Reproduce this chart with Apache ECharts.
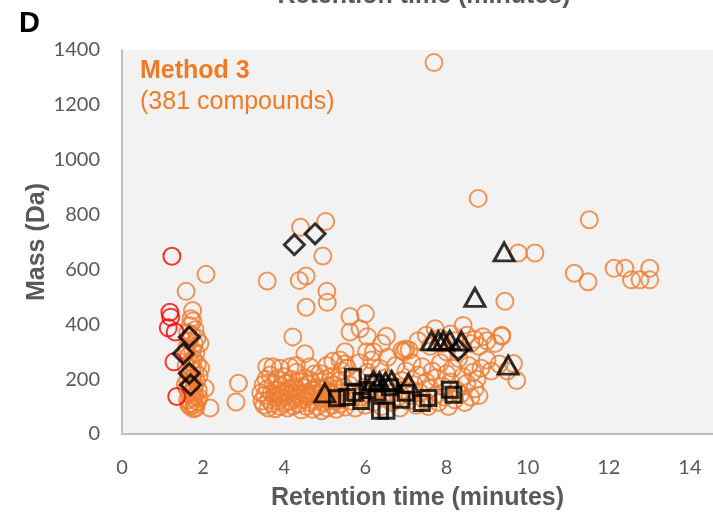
<!DOCTYPE html>
<html>
<head>
<meta charset="utf-8">
<script src="https://cdn.jsdelivr.net/npm/echarts@6/dist/echarts.min.js"></script>
<style>
  html, body { margin: 0; padding: 0; background: #ffffff; }
  #chart { width: 713px; height: 516px; }
</style>
</head>
<body>
<div id="chart"></div>
<script>
// Retention time (min) vs mass (Da), Method 3
const panelLetter = 'D';
const methodTitle = 'Method 3';
const methodCount = '(381 compounds)';
const xTitle = 'Retention time (minutes)';
const yTitle = 'Mass (Da)';
const xTicks = [0, 2, 4, 6, 8, 10, 12, 14];
const yTicks = [0, 200, 400, 600, 800, 1000, 1200, 1400];

// all detected compounds [rt, mass]
const compounds = [
  // early column
  [1.75,412],[1.68,395],[1.8,380],[1.62,370],[1.72,362],[1.85,350],[1.66,340],[1.78,330],[1.6,318],
  [1.74,305],[1.82,296],[1.64,285],[1.76,272],[1.7,262],[1.86,255],[1.58,248],[1.72,238],[1.8,228],
  [1.66,220],[1.9,212],[1.74,205],[1.62,196],[1.84,190],[1.7,182],[1.78,174],[1.6,166],[1.88,160],
  [1.72,152],[1.66,145],[1.8,138],[1.74,130],[1.62,124],[1.86,118],[1.7,112],[1.78,106],[1.68,100],
  [1.82,96],[1.76,92],[1.64,108],[1.9,132],[1.56,180],[1.94,240],[1.58,300],[1.92,330],[1.7,420],
  [2.07,582],[1.58,520],[1.74,450],[2.05,167],[2.17,95],[2.81,117],[2.87,185],
  // main cluster 3.4 - 5.5 min
  [3.57,245],[3.72,245],[3.9,240],[4.14,245],[4.3,250],[4.63,245],[4.88,221],[5.05,250],[5.2,265],
  [5.37,270],[5.5,255],
  [3.42,150],[3.45,120],[3.48,180],[3.5,105],[3.52,140],[3.55,200],[3.58,165],[3.6,95],[3.62,125],
  [3.65,215],[3.68,150],[3.7,110],[3.72,180],[3.75,135],[3.78,92],[3.8,160],[3.82,200],[3.85,120],
  [3.88,145],[3.9,100],[3.92,175],[3.95,130],[3.98,210],[4.0,155],[4.02,112],[4.05,185],[4.08,95],
  [4.1,140],[4.12,165],[4.15,120],[4.18,200],[4.2,150],[4.22,102],[4.25,175],[4.28,130],[4.3,225],
  [4.32,160],[4.35,110],[4.38,190],[4.4,140],[4.42,88],[4.45,170],[4.48,125],[4.5,205],[4.52,150],
  [4.55,100],[4.58,180],[4.6,135],[4.62,115],[4.65,195],[4.68,160],[4.7,90],[4.72,145],[4.75,220],
  [4.78,120],[4.8,170],[4.82,100],[4.85,150],[4.88,190],[4.9,130],[4.92,85],[4.95,165],[4.98,115],
  [5.0,200],[5.02,140],[5.05,95],[5.08,175],[5.1,125],[5.12,155],[5.15,210],[5.18,105],[5.2,145],
  [5.22,180],[5.25,120],[5.28,90],[5.3,165],[5.32,135],[5.35,195],[5.38,110],[5.4,150],[5.42,230],
  [5.45,125],[5.48,170],[5.5,98],
  // scattered higher masses
  [4.21,354],[4.51,293],[4.54,462],[4.37,560],[4.54,576],[3.58,558],[4.40,754],[5.02,775],[4.95,649],
  [5.05,520],[5.06,480],[5.62,428],[6.0,438],[5.62,372],[5.87,384],[6.52,356],[5.5,300],[6.03,300],
  // cluster 5.5 - 9.7 min
  [5.55,240],[5.6,180],[5.65,120],[5.7,150],[5.75,95],[5.8,200],[5.85,260],[5.9,135],[5.95,170],
  [6.0,105],[6.05,225],[6.1,145],[6.15,270],[6.2,115],[6.25,190],[6.3,160],[6.35,240],[6.4,100],
  [6.45,130],[6.5,205],[6.55,280],[6.6,150],[6.65,115],[6.7,175],[6.75,250],[6.8,135],[6.85,95],
  [6.9,195],[6.95,160],[7.0,230],[7.05,120],[7.1,140],[7.15,260],[7.2,180],[7.25,105],[7.3,215],
  [7.35,150],[7.4,245],[7.45,125],[7.5,190],[7.55,100],[7.6,165],[7.65,230],[7.7,140],[7.75,205],
  [7.8,115],[7.85,260],[7.9,175],[7.95,135],[8.0,220],[8.05,100],[8.1,190],[8.15,240],[8.2,125],
  [8.25,160],[8.3,275],[8.35,145],[8.4,210],[8.45,115],[8.5,185],[8.55,250],[8.6,135],[8.65,225],
  [8.7,165],[8.75,200],[8.8,140],[8.85,240],[9.0,270],[9.1,230],[9.3,255],[9.73,195],[9.65,257],
  [9.5,230],
  [6.2,300],[6.4,330],[6.9,305],[7.08,306],[7.3,340],[7.5,360],[7.72,384],[7.6,320],[7.85,350],
  [8.0,300],[8.2,340],[8.41,396],[8.5,360],[8.6,330],[8.7,345],[8.8,320],[8.9,355],[9.0,340],
  [9.2,330],[9.36,356],[9.36,360],[7.9,330],[8.1,365],[8.3,310],[6.05,355],[7.0,310],[6.95,300],
  // late eluting
  [9.44,484],[9.77,660],[10.18,660],[11.15,586],[11.49,555],[12.13,604],[12.40,604],[13.01,604],
  [12.56,562],[12.77,562],[13.01,562],[11.52,781],[8.78,859],[7.69,1354]
];

const redCompounds = [[1.23,648],[1.18,444],[1.2,426],[1.14,387],[1.31,372],[1.28,263],[1.35,137]];

const diamondCompounds = [[1.66,354],[1.51,293],[1.66,221],[1.69,179],[4.25,690],[4.76,730],[8.29,306]];

const triangleCompounds = [
  [5.0,150],[6.2,195],[6.35,190],[6.5,190],[6.65,195],[7.06,185],[7.63,340],[7.8,340],[7.92,340],
  [8.08,342],[8.37,339],[8.7,498],[9.42,664],[9.52,251]
];

const squareCompounds = [
  [5.3,130],[5.55,135],[5.69,209],[5.75,150],[5.9,120],[6.05,160],[6.19,185],[6.3,150],[6.36,85],
  [6.52,85],[6.6,170],[6.89,125],[7.0,150],[7.39,113],[7.55,131],[8.08,161],[8.17,143]
];

const orange = '#ED7D31';
const axisGrey = '#595959';
const labelFont = 'Lato, "Open Sans", sans-serif';
const boldFont = '"Liberation Sans", Arial, sans-serif';

const chart = echarts.init(document.getElementById('chart'), null, { renderer: 'canvas' });

const openMarker = (color, width) => ({ color: 'rgba(0,0,0,0)', borderColor: color, borderWidth: width });

chart.setOption({
  animation: false,
  backgroundColor: '#ffffff',
  grid: {
    left: 122, right: 0, top: 50, bottom: 77,
    show: true, backgroundColor: '#F2F2F2', borderWidth: 0
  },
  xAxis: {
    type: 'value',
    min: xTicks[0],
    max: 14.57,
    interval: 2,
    axisLine: { show: true, onZero: false, lineStyle: { color: '#BFBFBF', width: 2 } },
    axisTick: { show: false },
    splitLine: { show: false },
    axisLabel: {
      color: axisGrey, fontSize: 20, fontFamily: labelFont, margin: 24,
      showMaxLabel: false,
      formatter: v => (xTicks.indexOf(v) >= 0 ? String(v) : '')
    },
    name: xTitle,
    nameLocation: 'middle',
    nameGap: 52,
    nameTextStyle: { color: axisGrey, fontSize: 25, fontWeight: 'bold', fontFamily: boldFont }
  },
  yAxis: {
    type: 'value',
    min: yTicks[0],
    max: yTicks[yTicks.length - 1],
    interval: 200,
    axisLine: { show: true, lineStyle: { color: '#BFBFBF', width: 2 } },
    axisTick: { show: false },
    splitLine: { show: false },
    axisLabel: {
      color: axisGrey, fontSize: 20, fontFamily: labelFont, margin: 22,
      formatter: v => String(v)
    },
    name: yTitle,
    nameLocation: 'middle',
    nameGap: 72,
    nameMoveOverlap: false,
    nameTextStyle: { color: axisGrey, fontSize: 25, fontWeight: 'bold', fontFamily: boldFont }
  },
  graphic: [
    { type: 'text', left: 19, top: 9, style: { text: panelLetter, font: 'bold 29px "Liberation Sans", Arial, sans-serif', fill: '#000000' } },
    { type: 'text', left: 140, top: 59, style: { text: methodTitle, font: 'bold 25px "Liberation Sans", Arial, sans-serif', fill: '#F37A22' } },
    { type: 'text', left: 140, top: 90, style: { text: methodCount, font: '25px "Liberation Sans", Arial, sans-serif', fill: '#F37A22' } },
    { type: 'text', x: 424, y: 9, style: { text: xTitle, font: 'bold 25px "Liberation Sans", Arial, sans-serif', fill: axisGrey, align: 'center', verticalAlign: 'bottom' } }
  ],
  series: [
    {
      name: 'All compounds', type: 'scatter', data: compounds,
      symbol: 'circle', symbolSize: 17,
      itemStyle: openMarker(orange, 2), z: 2
    },
    {
      name: 'Red', type: 'scatter', data: redCompounds,
      symbol: 'circle', symbolSize: 17,
      itemStyle: openMarker('#FF0000', 2), z: 3
    },
    {
      name: 'Diamonds', type: 'scatter', data: diamondCompounds,
      symbol: 'diamond', symbolSize: 20,
      itemStyle: openMarker('#000000', 3), z: 4
    },
    {
      name: 'Triangles', type: 'scatter', data: triangleCompounds,
      symbol: 'triangle', symbolSize: [20, 18],
      itemStyle: openMarker('#000000', 3), z: 4
    },
    {
      name: 'Squares', type: 'scatter', data: squareCompounds,
      symbol: 'rect', symbolSize: 15,
      itemStyle: openMarker('#000000', 3), z: 4
    }
  ]
});
</script>
</body>
</html>
